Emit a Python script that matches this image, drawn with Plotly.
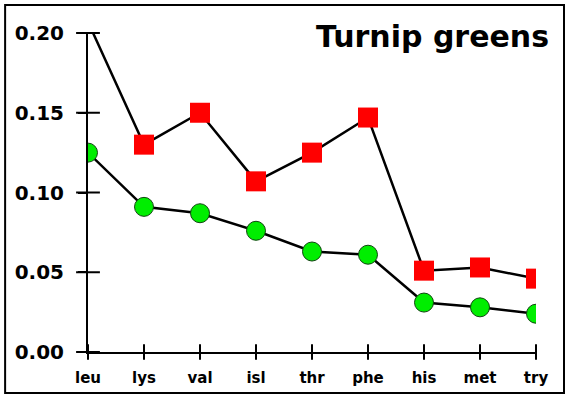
import plotly.graph_objects as go

categories = ["leu", "lys", "val", "isl", "thr", "phe", "his", "met", "try"]
red_values = [0.207, 0.130, 0.150, 0.107, 0.125, 0.147, 0.051, 0.053, 0.046]
green_values = [0.125, 0.091, 0.087, 0.076, 0.063, 0.061, 0.031, 0.028, 0.024]
y_ticks = [0.00, 0.05, 0.10, 0.15, 0.20]
title_text = "Turnip greens"

FONT = "DejaVu Sans"

fig = go.Figure()
# crossing tick marks (drawn as line markers on the axes)
fig.add_trace(go.Scatter(
    x=categories, y=[y_ticks[0]] * len(categories), mode="markers",
    marker=dict(symbol="line-ns", size=11, line=dict(color="black", width=2)),
    cliponaxis=False, showlegend=False, hoverinfo="skip",
))
fig.add_trace(go.Scatter(
    x=[categories[0]] * len(y_ticks), y=y_ticks, mode="markers",
    marker=dict(symbol="line-ew", size=17, line=dict(color="black", width=2)),
    cliponaxis=False, showlegend=False, hoverinfo="skip",
))
fig.add_trace(go.Scatter(
    x=categories, y=green_values, mode="lines+markers",
    line=dict(color="black", width=2.5),
    marker=dict(symbol="circle", size=19, color="#00ee00",
                line=dict(color="#114411", width=1)),
    cliponaxis=True, showlegend=False,
))
fig.add_trace(go.Scatter(
    x=categories, y=red_values, mode="lines+markers",
    line=dict(color="black", width=2.5),
    marker=dict(symbol="square", size=20, color="#ff0000",
                line=dict(color="#ff0000", width=0)),
    cliponaxis=True, showlegend=False,
))

fig.update_layout(
    width=571, height=398,
    margin=dict(l=88, r=35, t=33, b=46),
    paper_bgcolor="white", plot_bgcolor="white",
    xaxis=dict(
        type="category", categoryarray=categories, range=[0, len(categories) - 1],
        showgrid=False, zeroline=False, showline=True, linecolor="black", linewidth=2,
        ticks="outside", ticklen=5, tickwidth=2, tickcolor="black",
        tickfont=dict(family=FONT, size=15, color="black", weight="bold"),
        ticklabelstandoff=6,
    ),
    yaxis=dict(
        range=[0, 0.2], tickvals=y_ticks, tickformat=".2f",
        showgrid=False, zeroline=False, showline=True, linecolor="black", linewidth=2,
        ticks="outside", ticklen=8, tickwidth=2, tickcolor="black",
        tickfont=dict(family=FONT, size=20, color="black", weight="bold"),
        ticklabelstandoff=10,
    ),
)

fig.add_shape(type="rect", xref="paper", yref="paper",
              x0=-0.185, x1=1.0625, y0=-0.1285, y1=1.0878,
              line=dict(color="black", width=2), fillcolor="rgba(0,0,0,0)", layer="above")

fig.add_annotation(text=title_text, xref="paper", yref="paper",
                   x=1.0335, y=1.05, xanchor="right", yanchor="top", showarrow=False,
                   font=dict(family=FONT, size=30, color="black", weight="bold"))

fig.write_html("out.html", config={"displayModeBar": False},
               post_script="document.body.style.margin='0';document.body.style.overflow='hidden';")
